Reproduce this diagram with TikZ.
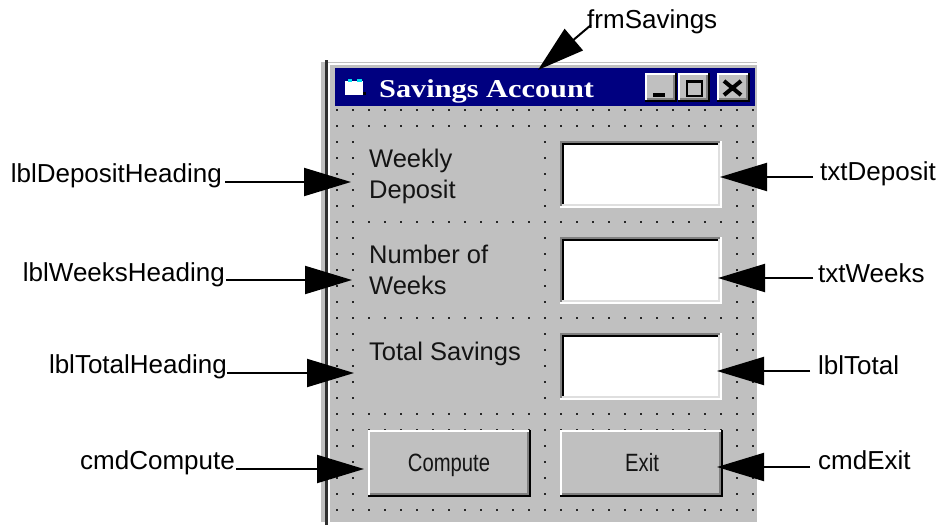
\documentclass[tikz,border=0pt]{standalone}
\usepackage{fontspec}
\setmainfont{Liberation Sans}
\newfontfamily\vbtitlefont{Liberation Serif}
\usetikzlibrary{arrows.meta}
\definecolor{vbgray}{HTML}{C0C0C0}
\definecolor{vbdark}{HTML}{808080}
\definecolor{vbblue}{HTML}{000080}
\definecolor{vbcyan}{HTML}{00E0F0}
\definecolor{vbtext}{HTML}{141414}
\definecolor{vbframe}{HTML}{303030}
\definecolor{vblight}{HTML}{DFDFDF}
% raised 3D box: x1 y1 x2 y2
\newcommand\vbraised[4]{%
  \fill[vbgray] (#1,#2) rectangle (#3,#4);
  \fill[black] (#1,#4-2) rectangle (#3,#4);
  \fill[black] (#3-2,#2) rectangle (#3,#4);
  \fill[vbdark] (#1+2,#4-4) rectangle (#3-2,#4-2);
  \fill[vbdark] (#3-4,#2+2) rectangle (#3-2,#4-2);
  \fill[white] (#1,#2) rectangle (#3-2,#2+2);
  \fill[white] (#1,#2) rectangle (#1+2,#4-2);
}
% sunken 3D text box: x1 y1 x2 y2
\newcommand\vbsunken[4]{%
  \fill[white] (#1,#2) rectangle (#3,#4);
  \fill[vbdark] (#1,#2) rectangle (#3-2,#2+2);
  \fill[vbdark] (#1,#2) rectangle (#1+2,#4-2);
  \fill[black] (#1+2,#2+2) rectangle (#3-4,#2+4);
  \fill[black] (#1+2,#2+2) rectangle (#1+4,#4-4);
  \fill[vblight] (#1+2,#4-4) rectangle (#3-2,#4-2);
  \fill[vblight] (#3-4,#2+2) rectangle (#3-2,#4-2);
}
\begin{document}
\begin{tikzpicture}[x=1pt,y=-1pt,
  ann/.style={font=\fontsize{26}{30}\selectfont, inner sep=0pt, text=black},
  formlbl/.style={font=\fontsize{25.5}{31}\selectfont, inner sep=0pt, text=vbtext, anchor=base west},
  btnlbl/.style={font=\fontsize{25}{30}\selectfont, inner sep=0pt, text=vbtext, anchor=base},
  arr/.style={line width=2pt, -{Triangle[length=47pt,width=28pt]}}]
\useasboundingbox (0,0) rectangle (940,525);
\fill[white] (0,0) rectangle (940,525);

% ---- form frame ----
\fill[vbgray] (321,62) rectangle (757,522);
\fill[vbframe] (325,60) rectangle (328,525);
\fill[white] (328,63) rectangle (757,65);
\fill[white] (328,63) rectangle (330,522);

% ---- title bar ----
\fill[vbblue] (335,68) rectangle (755,106);
% icon
\fill[white] (345,81) rectangle (363,95);
\fill[black] (363,92) rectangle (366,95);
\fill[vbcyan] (348,79) rectangle (352,82);
\fill[vbcyan] (357,79) rectangle (362,82);
\node[anchor=base west, inner sep=0pt, text=white,
      font=\fontsize{25.7}{30}\selectfont] (title) at (379,97)
      {\scalebox{1.18}[1]{\vbtitlefont\bfseries Savings Account}};
% title bar buttons
\vbraised{645}{73}{677}{102}
\vbraised{678}{73}{710}{102}
\vbraised{717}{73}{750}{102}
\fill[black] (653,93) rectangle (665,97);
\fill[black] (686,80) rectangle (703,83);
\draw[black, line width=2pt] (687,82) rectangle (702,96);
\draw[black, line width=4pt] (724,81) -- (741,95) (741,81) -- (724,95);

% ---- grid dots ----
\foreach \i in {0,...,26} {
  \foreach \j in {0,...,25} {
    \fill[black!85] (336+16*\i,109+16*\j) rectangle ++(2,2);
  }
}

% ---- labels (cover the grid) ----
\fill[vbgray] (366,139) rectangle (533,210);
\fill[vbgray] (366,235) rectangle (533,306);
\fill[vbgray] (366,331) rectangle (533,402);
\node[formlbl] (lblDep1) at (369,167) {Weekly};
\node[formlbl] (lblDep2) at (369,198) {Deposit};
\node[formlbl] (lblWk1) at (369,263) {Number of};
\node[formlbl] (lblWk2) at (369,294) {Weeks};
\node[formlbl] (lblTot) at (369,360) {Total Savings};

% ---- text boxes ----
\vbsunken{560}{141}{722}{208}
\vbsunken{560}{237}{722}{304}
\vbsunken{560}{333}{722}{400}

% ---- command buttons ----
\vbraised{368}{430}{531}{497}
\vbraised{560}{430}{723}{497}
\node[btnlbl] (btnCompute) at (449,471) {\scalebox{0.81}[1]{Compute}};
\node[btnlbl] (btnExit) at (642,471) {\scalebox{0.81}[1]{Exit}};

% ---- annotation texts ----
\node[ann, anchor=base west] (frm) at (587,28) {frmSavings};
\node[ann, anchor=base east] (aDepH) at (222,182) {lblDepositHeading};
\node[ann, anchor=base east] (aWkH) at (225,281) {lblWeeksHeading};
\node[ann, anchor=base east] (aTotH) at (227,373) {lblTotalHeading};
\node[ann, anchor=base east] (aCmp) at (235,469) {cmdCompute};
\node[ann, anchor=base west] (aDep) at (820,180) {txtDeposit};
\node[ann, anchor=base west] (aWk) at (818,282) {txtWeeks};
\node[ann, anchor=base west] (aTot) at (818,374) {lblTotal};
\node[ann, anchor=base west] (aExit) at (818,469) {cmdExit};

% ---- arrow tips ----
\coordinate (tFrm) at (538,70);
\coordinate (tDepH) at (351,182);
\coordinate (tWkH) at (352,280);
\coordinate (tTotH) at (354,373);
\coordinate (tCmp) at (364,469);
\coordinate (tDep) at (720,177);
\coordinate (tWk) at (718,278);
\coordinate (tTot) at (717,371);
\coordinate (tExit) at (717,467);

% ---- arrows ----
\draw[arr] ([xshift=4pt,yshift=3pt]frm.base west) -- (tFrm);
\draw[arr] ([xshift=3pt]aDepH.base east) -- (tDepH);
\draw[arr] ([xshift=1pt,yshift=1pt]aWkH.base east) -- (tWkH);
\draw[arr] ([xshift=0pt]aTotH.base east) -- (tTotH);
\draw[arr] ([xshift=1pt]aCmp.base east) -- (tCmp);
\draw[arr] ([xshift=-7pt,yshift=3pt]aDep.base west) -- (tDep);
\draw[arr] ([xshift=-5pt,yshift=4pt]aWk.base west) -- (tWk);
\draw[arr] ([xshift=-8pt,yshift=3pt]aTot.base west) -- (tTot);
\draw[arr] ([xshift=-8pt,yshift=2pt]aExit.base west) -- (tExit);
\end{tikzpicture}
\end{document}
